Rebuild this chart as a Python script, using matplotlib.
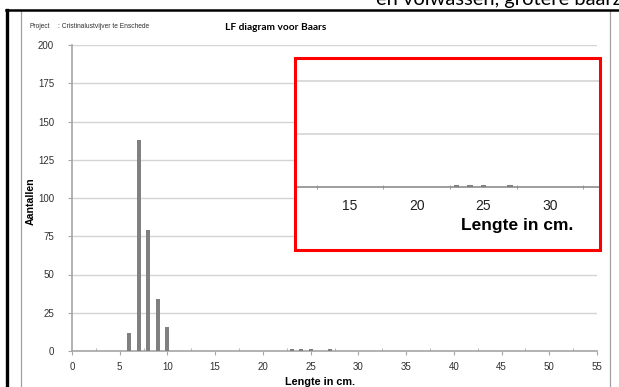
import numpy as np
import matplotlib.pyplot as plt
from matplotlib.lines import Line2D
from matplotlib.patches import Rectangle

# ============================
# DATA
# ============================
lengte = [6, 7, 8, 9, 10, 23, 24, 25, 27]
aantal = [12, 138, 79, 34, 16, 1, 1, 1, 1]

x_major = [0, 5, 10, 15, 20, 25, 30, 35, 40, 45, 50, 55]
y_major = [0, 25, 50, 75, 100, 125, 150, 175, 200]
inset_ticks = [15, 20, 25, 30]

BAR_COLOR = "#808080"
GRID_COLOR = "#d4d4d4"
AXIS_COLOR = "#a6a6a6"
TICK_FONT = "Liberation Sans"
HEAD_FONT = "Lato"

W, H = 619, 387
fig = plt.figure(figsize=(W / 100, H / 100), dpi=100)


def fx(px):
    return px / W


def fy(py):
    return 1 - py / H


# ============================
# MAIN CHART
# ============================
ax = fig.add_axes([fx(72), fy(351), fx(597) - fx(72), fy(45) - fy(351)])
ax.bar(lengte, aantal, width=0.42, color=BAR_COLOR, zorder=3)
ax.set_xlim(0, 55)
ax.set_ylim(0, 200)
ax.set_xticks(x_major)
ax.set_xticks(np.arange(2.5, 55, 5), minor=True)
ax.set_yticks(y_major)
ax.grid(axis="y", color=GRID_COLOR, linewidth=1, zorder=0)
for s in ["top", "right"]:
    ax.spines[s].set_visible(False)
for s in ["left", "bottom"]:
    ax.spines[s].set_color(AXIS_COLOR)
    ax.spines[s].set_linewidth(1.2)
ax.tick_params(axis="both", which="major", direction="out", length=3,
               color=AXIS_COLOR, labelsize=7)
ax.tick_params(axis="x", which="major", pad=5)
ax.tick_params(axis="y", which="major", pad=10)
ax.tick_params(axis="x", which="minor", direction="in", length=2,
               color=AXIS_COLOR)
for lab in ax.get_xticklabels() + ax.get_yticklabels():
    lab.set_fontfamily(TICK_FONT)
    lab.set_color("#303030")

ax.set_xlabel("Lengte in cm.", fontsize=7.8, fontweight="bold",
              fontfamily=TICK_FONT)
ax.xaxis.set_label_coords(0.472, -0.085)
ax.set_ylabel("Aantallen", fontsize=7.6, fontweight="bold",
              fontfamily=TICK_FONT)
ax.yaxis.set_label_coords(-0.07, 0.49)

# ============================
# ZOOMED INSET
# ============================
ins = fig.add_axes([fx(295), fy(250), fx(600) - fx(295), fy(58) - fy(250)])
ins.bar(lengte, aantal, width=0.42, color=BAR_COLOR, zorder=3)
ins.set_xlim(10.87, 33.75)
ins.set_ylim(-29.7, 60.8)
ins.set_facecolor("white")
ins.set_xticks(inset_ticks)
ins.set_xticks(np.arange(12.5, 34, 5), minor=True)
ins.set_yticks([25, 50])
ins.grid(axis="y", color=GRID_COLOR, linewidth=1.2, zorder=0)
ins.tick_params(axis="y", left=False, labelleft=False)
for s in ["top", "right", "left"]:
    ins.spines[s].set_visible(False)
ins.spines["bottom"].set_position(("data", 0))
ins.spines["bottom"].set_color("#8c8c8c")
ins.spines["bottom"].set_linewidth(1.2)
ins.tick_params(axis="x", which="major", length=0, labelsize=10, pad=9)
ins.tick_params(axis="x", which="minor", direction="inout", length=3,
                color="#8c8c8c")
for lab in ins.get_xticklabels():
    lab.set_fontfamily(TICK_FONT)
    lab.set_color("#202020")
ins.set_xlabel("Lengte in cm.", fontsize=12.5, fontweight="bold",
               fontfamily=TICK_FONT)
ins.xaxis.set_label_coords(0.73, 0.165)
ins.add_patch(Rectangle((0, 0), 1, 1, transform=ins.transAxes, fill=False,
                        edgecolor="#ff0000", linewidth=2.2, clip_on=False,
                        zorder=10))

# ============================
# HEADER AND FRAME
# ============================
fig.text(fx(30), fy(27), "Project", fontsize=4.8, fontfamily=TICK_FONT,
         va="center", color="#303030")
fig.text(fx(58), fy(27), ": Cristinalustvijver te Enschede", fontsize=4.8,
         fontfamily=TICK_FONT, va="center", color="#303030")
fig.text(fx(276), fy(27), "LF diagram voor Baars", fontsize=7.3,
         fontweight="bold", fontfamily=HEAD_FONT, ha="center", va="center")
fig.text(fx(376), fy(5), "en volwassen, grotere baarzen", fontsize=14.5,
         fontfamily=HEAD_FONT, va="baseline")

fig.add_artist(Line2D([fx(21), fx(21)], [fy(11), 0], color="#a0a0a0",
                      linewidth=0.9))
fig.add_artist(Line2D([fx(610), fx(610)], [fy(11), 0], color="#a0a0a0",
                      linewidth=0.9))
fig.add_artist(Line2D([fx(6), 1], [fy(10), fy(10)], color="black",
                      linewidth=1.8))
fig.add_artist(Line2D([fx(7), fx(7)], [fy(10), 0], color="black",
                      linewidth=2.4))

fig.savefig("out.png", dpi=100)
